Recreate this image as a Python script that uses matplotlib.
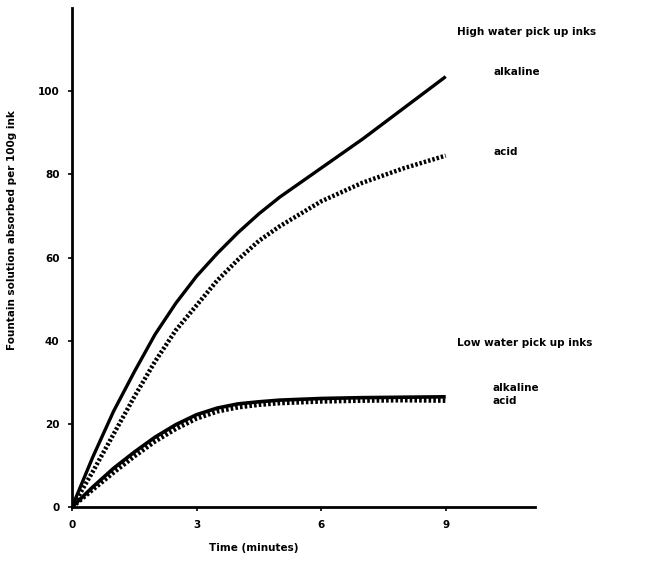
import matplotlib
matplotlib.use("Agg")
import matplotlib.pyplot as plt

# Data
time_min = [0, 0.5, 1, 1.5, 2, 2.5, 3, 3.5, 4, 4.5, 5, 6, 7, 8, 9]
high_alkaline = [0, 12.0, 23.0, 32.5, 41.5, 49.0, 55.5, 61.0, 66.0, 70.5, 74.5, 81.5, 88.5, 96.0, 103.5]
high_acid = [0, 8.5, 17.5, 26.5, 35.0, 42.5, 48.5, 54.5, 59.5, 64.0, 67.5, 73.5, 78.0, 81.5, 84.5]
low_alkaline = [0, 4.8, 9.3, 13.2, 16.8, 19.8, 22.2, 23.8, 24.8, 25.3, 25.7, 26.1, 26.3, 26.4, 26.5]
low_acid = [0, 4.2, 8.3, 12.2, 15.8, 18.8, 21.3, 23.0, 24.0, 24.6, 25.0, 25.4, 25.6, 25.7, 25.6]

x_ticks = [0, 3, 6, 9]
y_ticks = [0, 20, 40, 60, 80, 100]

W, H = 655, 561
fig = plt.figure(figsize=(W / 100, H / 100), dpi=100)
ax = fig.add_axes([72 / W, 54 / H, (535 - 72) / W, (507 - 8) / H])

dot = (0, (0.55, 0.45))
ax.plot(time_min, high_alkaline, color="black", lw=2.4, solid_capstyle="butt", solid_joinstyle="round")
ax.plot(time_min, high_acid, color="black", lw=3.2, linestyle=dot)
ax.plot(time_min, low_alkaline, color="black", lw=2.6, solid_capstyle="butt", solid_joinstyle="round")
ax.plot(time_min, low_acid, color="black", lw=3.4, linestyle=dot)

ax.set_xlim(0, 11.15)
ax.set_ylim(0, 120)
ax.set_xticks(x_ticks)
ax.set_yticks(y_ticks)
for s in ["top", "right"]:
    ax.spines[s].set_visible(False)
for s in ["left", "bottom"]:
    ax.spines[s].set_linewidth(2.0)
ax.tick_params(direction="out", length=3, width=1.2, labelsize=7.5, pad=6)
for lab in ax.get_xticklabels() + ax.get_yticklabels():
    lab.set_fontweight("bold")

fs = 7.5
def ftext(x, y, s, **kw):
    fig.text(x / W, 1 - y / H, s, fontsize=fs, fontweight="bold", va="center", **kw)

ftext(254, 548, "Time (minutes)", ha="center")
fig.text(12 / W, 1 - 230 / H, "Fountain solution absorbed per 100g ink", fontsize=fs,
         fontweight="bold", rotation=90, ha="center", va="center")

ftext(457, 32, "High water pick up inks", ha="left")
ftext(493, 72, "alkaline", ha="left")
ftext(493, 152, "acid", ha="left")
ftext(457, 343, "Low water pick up inks", ha="left")
ftext(492, 388, "alkaline", ha="left")
ftext(492, 401, "acid", ha="left")

fig.savefig("out.png", dpi=100)
